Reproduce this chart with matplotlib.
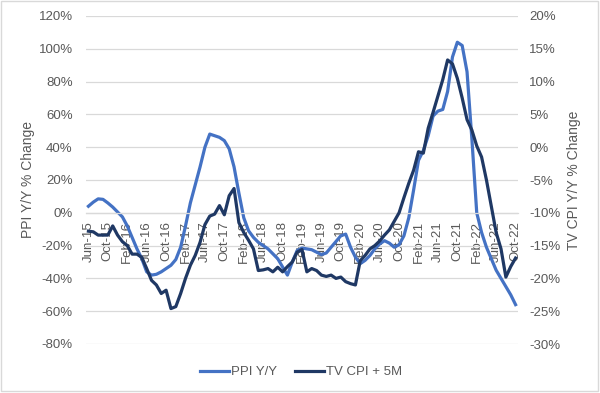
import numpy as np
import matplotlib
matplotlib.use('Agg')
import matplotlib.pyplot as plt
from matplotlib.patches import Rectangle
from matplotlib.ticker import FuncFormatter

plt.rcParams['font.family'] = ['Liberation Sans', 'DejaVu Sans']

# 月度数据: Jun-15 ... Oct-22 (89 个月)
tick_labels = ['Jun-15', 'Oct-15', 'Feb-16', 'Jun-16', 'Oct-16', 'Feb-17', 'Jun-17', 'Oct-17',
               'Feb-18', 'Jun-18', 'Oct-18', 'Feb-19', 'Jun-19', 'Oct-19', 'Feb-20', 'Jun-20',
               'Oct-20', 'Feb-21', 'Jun-21', 'Oct-21', 'Feb-22', 'Jun-22', 'Oct-22']

# PPI Y/Y (%), 左轴
ppi = [4, 6.5, 8.5, 8.2, 6, 3.5, 0.5, -2.5, -8, -15,
       -22, -28, -36, -38, -37.5, -36, -34, -32, -28.5, -21,
       -8, 6, 17, 28, 40, 48, 47, 46, 44, 39,
       28, 12, -3, -11, -15, -18, -20, -22, -25, -28,
       -33, -38, -30, -23, -21.5, -22, -22.5, -24, -25.5, -24.5,
       -21, -17.5, -14, -13, -21, -27, -31, -29, -26, -22,
       -19, -17, -18.5, -21, -19.5, -14, -3, 14, 32, 38,
       47, 59, 62, 63, 74, 95, 104, 102, 86, 45,
       0, -12, -21, -28, -35, -40, -45, -50, -56]

# TV CPI + 5M Y/Y (%), 右轴
tv_cpi = [-12.8, -12.9, -13.4, -13.4, -13.4, -12.0, -13.4, -14.4, -15.0, -16.3,
          -16.3, -16.8, -18.5, -20.3, -21.0, -22.3, -21.8, -24.6, -24.3, -22.3,
          -20.0, -18.0, -16.5, -14.5, -11.8, -10.5, -10.2, -8.9, -10.3, -7.4,
          -6.3, -11.5, -13.0, -14.2, -15.5, -18.8, -18.7, -18.5, -19.0, -18.3,
          -19.0, -18.2, -17.5, -16.0, -15.6, -19.0, -18.5, -18.8, -19.5, -19.7,
          -19.5, -20.0, -19.8, -20.5, -20.8, -21.0, -17.3, -16.5, -15.5, -15.0,
          -14.3, -13.4, -12.6, -11.3, -10.0, -7.7, -5.5, -3.5, -0.7, -0.9,
          2.9, 5.3, 7.8, 10.3, 13.3, 12.7, 10.5, 7.5, 4.2, 2.6,
          0.2, -1.5, -5.0, -9.0, -13.0, -15.5, -19.8, -18.2, -16.9]

x = np.arange(len(ppi))
text_color = '#595959'
grid_color = '#d9d9d9'

fig = plt.figure(figsize=(6, 3.93), dpi=100)
ax = fig.add_axes([86 / 600, 1 - 344 / 393, 432 / 600, 328 / 393])
ax2 = ax.twinx()

ax.plot(x, ppi, color='#4472C4', linewidth=2.3, label='PPI Y/Y', solid_joinstyle='round')
ax2.plot(x, tv_cpi, color='#1F3864', linewidth=2.3, label='TV CPI + 5M', solid_joinstyle='round')

ax.set_xlim(-0.5, len(ppi) - 0.5)
ax.set_ylim(-80, 120)
ax.set_yticks(np.arange(-80, 121, 20))
ax2.set_ylim(-30, 20)
ax2.set_yticks(np.arange(-30, 21, 5))

pct = FuncFormatter(lambda v, p: f'{v:.0f}%')
ax.yaxis.set_major_formatter(pct)
ax2.yaxis.set_major_formatter(pct)

# 网格线
ax.grid(axis='y', color=grid_color, linewidth=0.9)
ax.set_axisbelow(True)

for a in (ax, ax2):
    for s in a.spines.values():
        s.set_visible(False)

# 横轴放在 0% 处
ax.spines['bottom'].set_visible(True)
ax.spines['bottom'].set_position(('data', 0))
ax.spines['bottom'].set_color(grid_color)
ax.spines['bottom'].set_linewidth(0.9)

ax.set_xticks(x[::4])
ax.set_xticklabels(tick_labels, rotation=90, fontsize=9.5, color=text_color)
ax.tick_params(axis='x', length=0, pad=6)
ax.tick_params(axis='y', length=0, pad=9.5, labelsize=9.5, labelcolor=text_color)
ax2.tick_params(axis='y', length=0, pad=8, labelsize=9.5, labelcolor=text_color)

fig.text(28 / 600, 1 - 180 / 393, 'PPI Y/Y % Change', rotation=90, ha='center', va='center',
         fontsize=10, color=text_color)
fig.text(574 / 600, 1 - 180 / 393, 'TV CPI Y/Y % Change', rotation=90, ha='center', va='center',
         fontsize=10, color=text_color)

h1, l1 = ax.get_legend_handles_labels()
h2, l2 = ax2.get_legend_handles_labels()
fig.legend(h1 + h2, l1 + l2, loc='center', bbox_to_anchor=(301 / 600, 1 - 372 / 393), ncol=2,
           frameon=False, fontsize=9.5, labelcolor=text_color, handlelength=2.2,
           handletextpad=0.15, columnspacing=1.4)

# 图表外框
fig.patches.append(Rectangle((0.002, 0.004), 0.995, 0.993, transform=fig.transFigure,
                             fill=False, edgecolor=grid_color, linewidth=1))

plt.savefig('out.png', dpi=100)
plt.close()
